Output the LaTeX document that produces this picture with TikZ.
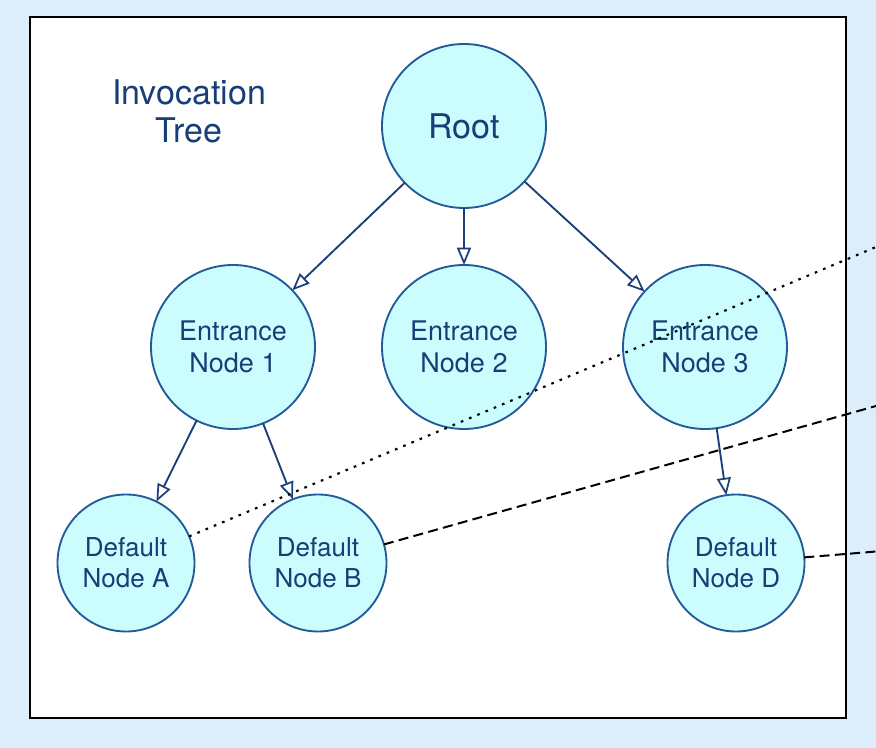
\documentclass[tikz,border=0pt]{standalone}
\usepackage{fontspec}
\setmainfont{TeX Gyre Heros}
\usetikzlibrary{arrows.meta}
\definecolor{bgblue}{HTML}{DCEDFC}
\definecolor{cfill}{HTML}{CCFDFE}
\definecolor{cborder}{HTML}{235A98}
\definecolor{ctext}{HTML}{173E76}
\definecolor{carrow}{HTML}{1C3F7A}
\tikzset{
  x=0.75pt, y=-0.75pt,
  bignode/.style={circle, draw=cborder, fill=cfill, line width=1.4pt, minimum size=123pt, inner sep=0pt, outer sep=0pt, align=center, text=ctext, font=\fontsize{20.25pt}{24pt}\selectfont},
  smallnode/.style={bignode, minimum size=102.75pt, font=\fontsize{19.5pt}{23.25pt}\selectfont},
  rootnode/.style={bignode, font=\fontsize{25.5pt}{30pt}\selectfont},
  treearrow/.style={draw=carrow, line width=1.4pt, -{Triangle[open, length=13pt, width=10.5pt, line width=1.3pt]}},
  dotline/.style={draw=black, line width=1.6pt, dash pattern=on 2pt off 4.7pt},
  dashline/.style={draw=black, line width=1.5pt, dash pattern=on 7.5pt off 4pt},
}
\begin{document}
\begin{tikzpicture}
\useasboundingbox (0,0) rectangle (876,748);
\fill[bgblue] (0,0) rectangle (876,748);
\draw[black, fill=white, line width=1.5pt] (30,17) rectangle (846,718);

\node[text=ctext, align=center, font=\fontsize{25.5pt}{28.5pt}\selectfont] (title) at (189,111) {Invocation\\Tree};

\node[rootnode] (root) at (464,126) {Root};
\node[bignode] (e1) at (233,347) {Entrance\\Node 1};
\node[bignode] (e2) at (464,347) {Entrance\\Node 2};
\node[bignode] (e3) at (705,347) {Entrance\\Node 3};
\node[smallnode] (a) at (126,563) {Default\\Node A};
\node[smallnode] (b) at (318,563) {Default\\Node B};
\node[smallnode] (d) at (736,563) {Default\\Node D};

\draw[treearrow] (root) -- (e1);
\draw[treearrow] (root) -- (e2);
\draw[treearrow] (root) -- (e3);
\draw[treearrow] (e1) -- (a);
\draw[treearrow] (e1) -- (b);
\draw[treearrow] (e3) -- (d);

\coordinate (pa) at (876,247);
\coordinate (pb) at (876,406);
\coordinate (pd) at (876,551.5);
\draw[dotline] (a) -- (pa);
\draw[dashline] (b) -- (pb);
\draw[dashline] (d) -- (pd);
\end{tikzpicture}
\end{document}
